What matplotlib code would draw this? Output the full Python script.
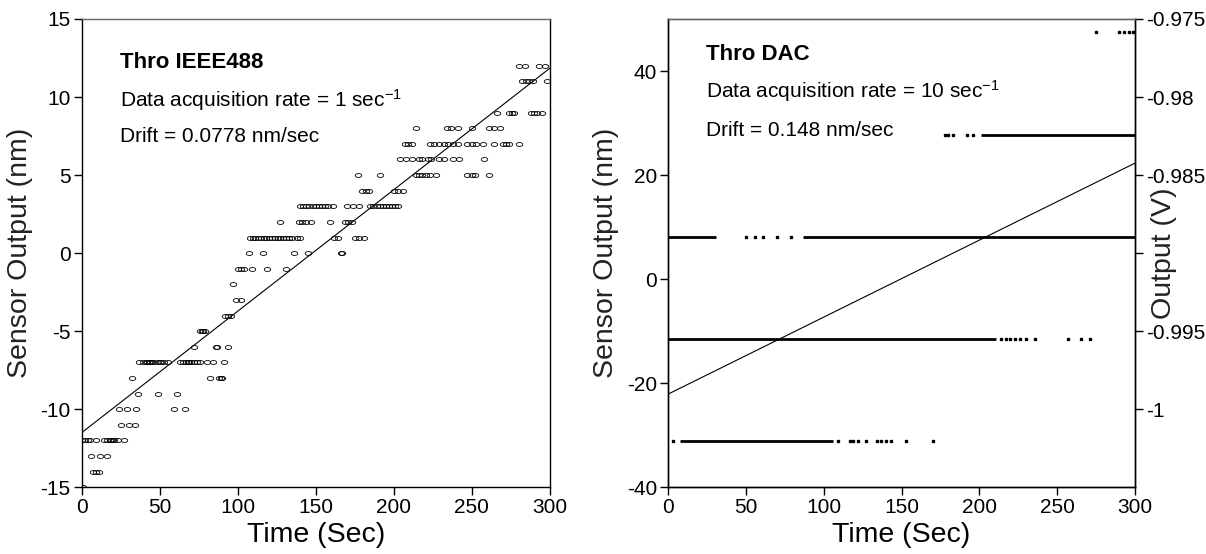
import matplotlib
matplotlib.use("Agg")
import matplotlib.pyplot as plt
import numpy as np
from matplotlib.path import Path

plt.rcParams['font.family'] = ['Liberation Sans', 'DejaVu Sans']
plt.rcParams['axes.unicode_minus'] = False
plt.rcParams['mathtext.fontset'] = 'custom'
plt.rcParams['mathtext.rm'] = 'Liberation Sans'
plt.rcParams['mathtext.it'] = 'Liberation Sans'

# ---------------- Left panel data (Thro IEEE488), integer nm levels ----------------
lvl_m15 = [1]
lvl_m14 = [7, 9, 11]
lvl_m13 = [6, 12, 16]
lvl_m12 = [0, 2, 4, 5, 9, 14, 16, 18, 19, 20, 21, 23, 27]
lvl_m11 = [25, 30, 34]
lvl_m10 = [24, 29, 35, 59, 66]
lvl_m9 = [36, 49, 61]
lvl_m8 = [32, 82, 88, 89, 90]
lvl_m7 = [37, 39, 41, 42, 43, 44, 45, 46, 48, 50, 51, 53, 55, 63, 65, 67, 68, 69,
          70, 72, 74, 76, 80, 84, 91]
lvl_m6 = [72, 86, 87, 94]
lvl_m5 = [76, 77, 78, 79]
lvl_m4 = [92, 94, 96]
lvl_m3 = [99, 102]
lvl_m2 = [97]
lvl_m1 = [100, 102, 104, 109, 119, 131]
lvl_0 = [107, 116, 136, 145, 166, 167]
lvl_1 = [108, 110, 111, 113, 115, 117, 118, 120, 122, 124, 126, 127, 129, 131, 133,
         135, 138, 140, 162, 164, 175, 178, 181]
lvl_2 = [127, 139, 141, 144, 147, 159, 169, 171, 173]
lvl_3 = [140, 142, 144, 146, 148, 150, 152, 154, 156, 158, 161, 170, 174, 178, 185,
         187, 189, 191, 193, 195, 197, 199, 201, 203]
lvl_4 = [180, 182, 184, 200, 203, 206]
lvl_5 = [177, 191, 214, 216, 218, 221, 223, 227, 247, 250, 252, 261]
lvl_6 = [204, 208, 212, 216, 218, 222, 224, 229, 232, 238, 242, 258]
lvl_7 = [207, 209, 212, 223, 226, 229, 232, 235, 238, 241, 247, 250, 253, 257, 264,
         270, 272, 274, 280]
lvl_8 = [214, 234, 237, 241, 250, 261, 264, 268]
lvl_9 = [266, 274, 276, 277, 288, 290, 292, 295]
lvl_11 = [282, 285, 287, 289, 298]
lvl_12 = [280, 284, 293, 297]

ieee_levels = {-15: lvl_m15, -14: lvl_m14, -13: lvl_m13, -12: lvl_m12, -11: lvl_m11,
               -10: lvl_m10, -9: lvl_m9, -8: lvl_m8, -7: lvl_m7, -6: lvl_m6,
               -5: lvl_m5, -4: lvl_m4, -3: lvl_m3, -2: lvl_m2, -1: lvl_m1, 0: lvl_0,
               1: lvl_1, 2: lvl_2, 3: lvl_3, 4: lvl_4, 5: lvl_5, 6: lvl_6, 7: lvl_7,
               8: lvl_8, 9: lvl_9, 11: lvl_11, 12: lvl_12}

ieee_fit_intercept = -11.5
ieee_fit_slope = 0.0778

# ---------------- Right panel data (Thro DAC), output levels in V ----------------
dac_levels = [-0.97586, -0.98240, -0.98894, -0.99549, -1.00203]
# dense sample runs (start, end) in seconds for each level
dac_runs = [[],
            [(201, 300)],
            [(0, 31), (87, 300)],
            [(0, 211)],
            [(8, 106)]]
# isolated samples for each level
dac_dots = [[275, 290, 293, 296, 299],
            [178, 180, 183, 192, 196],
            [50, 56, 61, 70, 79],
            [214, 217, 220, 223, 226, 230, 236, 257, 265, 271],
            [3, 109, 117, 119, 122, 127, 134, 137, 140, 143, 153, 170]]
dac_fit_intercept = -22.1
dac_fit_slope = 0.148

time_ticks = [0, 50, 100, 150, 200, 250, 300]
left_yticks = [-15, -10, -5, 0, 5, 10, 15]
dac_yticks = [-40, -20, 0, 20, 40]
volt_ticks = [-1.0, -0.995, -0.99, -0.985, -0.98, -0.975]
volt_labels = ['-1', '-0.995', '', '-0.985', '-0.98', '-0.975']

# ---------------- Figure ----------------
W, H = 1206, 554
fig = plt.figure(figsize=(W / 100, H / 100), dpi=100)
ax1 = fig.add_axes([81.7 / W, 1 - 487.3 / H, 468 / W, 468.3 / H])
ax2 = fig.add_axes([668 / W, 1 - 487.3 / H, 467 / W, 468.3 / H])
ax2r = ax2.twinx()

# elliptical open marker
th = np.linspace(0, 2 * np.pi, 40)
ell = Path(np.column_stack([np.cos(th), 0.62 * np.sin(th)]), closed=True)

tick_fs = 15
lab_fs = 20.5
txt_fs = 15
title_fs = 16

def style(ax):
    ax.tick_params(direction='out', length=6, width=1, labelsize=tick_fs, pad=2,
                   colors='black')
    for s in ['left', 'bottom', 'right']:
        ax.spines[s].set_linewidth(1.0)
        ax.spines[s].set_color('black')
    ax.spines['top'].set_linewidth(1.0)
    ax.spines['top'].set_color('#666666')

# ---- left panel ----
for lvl, ts in ieee_levels.items():
    ax1.plot(ts, [lvl] * len(ts), linestyle='none', marker=ell, markersize=4.6,
             markerfacecolor='none', markeredgecolor='black', markeredgewidth=0.6)
ax1.plot(time_ticks[::6], [ieee_fit_intercept + ieee_fit_slope * t for t in time_ticks[::6]],
         color='black', linewidth=0.8)
ax1.set_xlim(0, 300)
ax1.set_ylim(-15, 15)
ax1.set_xticks(time_ticks)
ax1.set_yticks(left_yticks)
style(ax1)
ax1.tick_params(top=False, right=False)
ax1.set_xlabel('Time (Sec)', fontsize=lab_fs)
ax1.set_ylabel('Sensor Output (nm)', fontsize=lab_fs, color='#222222')
ax1.xaxis.set_label_coords(0.5, -0.075)
ax1.yaxis.set_label_coords(-0.105, 0.5)

ax1.text(0.082, 0.895, 'Thro IEEE488', transform=ax1.transAxes, fontsize=title_fs,
         fontweight='bold', va='baseline')
ax1.text(0.082, 0.812, 'Data acquisition rate = 1 sec$^{\\mathregular{-1}}$',
         transform=ax1.transAxes, fontsize=txt_fs, va='baseline')
ax1.text(0.082, 0.737, 'Drift = 0.0778 nm/sec', transform=ax1.transAxes,
         fontsize=txt_fs, va='baseline')

# ---- right panel ----
for lv, runs, dots in zip(dac_levels, dac_runs, dac_dots):
    for (a, b) in runs:
        ax2r.hlines(lv, a, b, color='black', linewidth=2.0)
    ax2r.plot(dots, [lv] * len(dots), linestyle='none', marker='s', markersize=1.8,
              color='black')
ax2.plot(time_ticks[::6], [dac_fit_intercept + dac_fit_slope * t for t in time_ticks[::6]],
         color='black', linewidth=0.8)
ax2.set_xlim(0, 300)
ax2.set_ylim(-40, 50)
ax2.set_xticks(time_ticks)
ax2.set_yticks(dac_yticks)
ax2r.set_ylim(-1.005, -0.975)
ax2r.set_yticks(volt_ticks)
ax2r.set_yticklabels(volt_labels)
style(ax2)
style(ax2r)
ax2.tick_params(top=False, right=False)
ax2r.tick_params(left=False, top=False, bottom=False)
ax2.set_xlabel('Time (Sec)', fontsize=lab_fs)
ax2.set_ylabel('Sensor Output (nm)', fontsize=lab_fs, color='#222222')
ax2.xaxis.set_label_coords(0.5, -0.075)
ax2.yaxis.set_label_coords(-0.105, 0.5)
ax2r.set_ylabel('Output (V)', fontsize=lab_fs, color='#222222')
ax2r.yaxis.set_label_coords(1.035, 0.5)

ax2.text(0.0814, 0.913, 'Thro DAC', transform=ax2.transAxes, fontsize=title_fs,
         fontweight='bold', va='baseline')
ax2.text(0.0814, 0.831, 'Data acquisition rate = 10 sec$^{\\mathregular{-1}}$',
         transform=ax2.transAxes, fontsize=txt_fs, va='baseline')
ax2.text(0.0814, 0.751, 'Drift = 0.148 nm/sec', transform=ax2.transAxes,
         fontsize=txt_fs, va='baseline')

fig.savefig('out.png', dpi=100)
